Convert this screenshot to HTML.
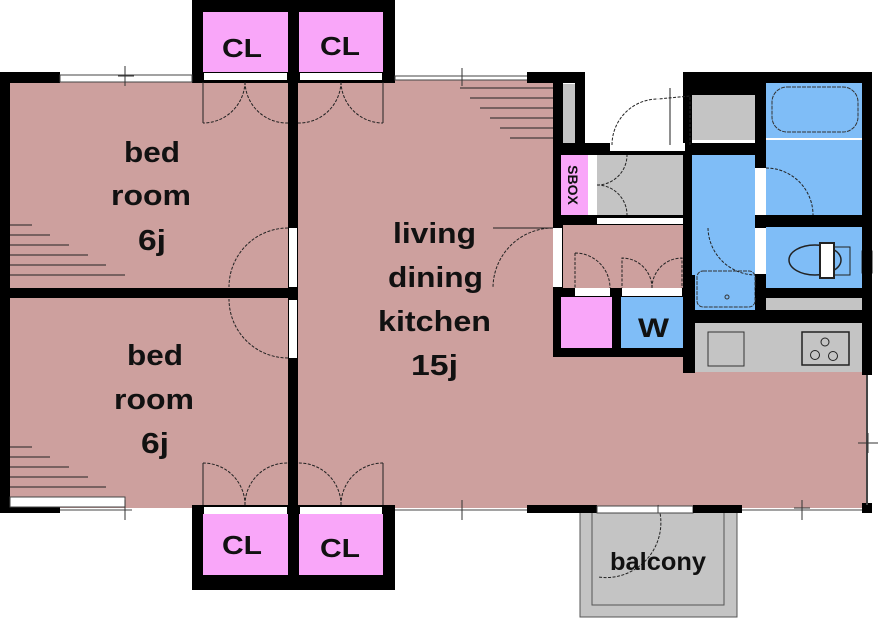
<!DOCTYPE html>
<html><head><meta charset="utf-8"><style>
html,body{margin:0;padding:0;background:#fff;}
svg{display:block;}
text{font-family:"Liberation Sans","DejaVu Sans",sans-serif;font-weight:bold;fill:#111;}
</style></head><body>
<svg width="880" height="619" viewBox="0 0 880 619" xmlns="http://www.w3.org/2000/svg">
<rect x="5" y="78" width="290" height="430" fill="#cda09e"/>
<rect x="295" y="78" width="262" height="430" fill="#cda09e"/>
<rect x="557" y="222" width="135" height="70" fill="#cda09e"/>
<rect x="557" y="350" width="310" height="158" fill="#cda09e"/>
<rect x="580" y="512" width="157" height="105" fill="#c4c4c4" stroke="#555" stroke-width="1"/>
<rect x="592" y="512" width="132" height="93" fill="none" stroke="#555" stroke-width="1"/>
<rect x="192" y="0" width="203" height="83" fill="#000"/>
<rect x="203" y="12" width="85" height="60" fill="#f9a6f9"/>
<rect x="299" y="12" width="84" height="60" fill="#f9a6f9"/>
<rect x="204" y="73" width="83" height="7" fill="#fff"/>
<rect x="300" y="73" width="82" height="7" fill="#fff"/>
<rect x="192" y="505" width="203" height="85" fill="#000"/>
<rect x="203" y="514" width="85" height="61" fill="#f9a6f9"/>
<rect x="299" y="514" width="84" height="61" fill="#f9a6f9"/>
<rect x="204" y="507" width="83" height="7" fill="#fff"/>
<rect x="300" y="507" width="82" height="7" fill="#fff"/>
<rect x="0" y="72" width="10" height="441" fill="#000"/>
<rect x="0" y="72" width="60" height="11" fill="#000"/>
<rect x="60" y="75" width="132" height="7" fill="#fff" stroke="#444" stroke-width="1"/>
<rect x="0" y="505" width="60" height="8" fill="#000"/>
<rect x="10" y="497" width="115" height="10" fill="#fff" stroke="#444" stroke-width="1"/>
<line x1="60" y1="510" x2="132" y2="510" stroke="#444"/>
<line x1="125" y1="500" x2="125" y2="520" stroke="#333"/>
<line x1="125" y1="66" x2="125" y2="86" stroke="#333"/>
<line x1="118" y1="76" x2="134" y2="76" stroke="#333"/>
<rect x="288" y="0" width="10" height="590" fill="#000"/>
<rect x="0" y="288" width="298" height="10" fill="#000"/>
<rect x="289" y="228" width="8" height="59" fill="#fff"/>
<rect x="289" y="300" width="8" height="58" fill="#fff"/>
<g fill="none" stroke="#222" stroke-width="1" stroke-dasharray="3,1.5">
<path d="M288 228 A59 59 0 0 0 229 287"/>
<path d="M288 358 A59 59 0 0 1 229 299"/>
<path d="M245 82 A42 42 0 0 1 203 123 M245 82 A42 42 0 0 0 288 123"/>
<path d="M341 82 A42 42 0 0 1 298 123 M341 82 A42 42 0 0 0 383 123"/>
<path d="M245 505 A42 42 0 0 0 203 463 M245 505 A42 42 0 0 1 288 463"/>
<path d="M341 505 A42 42 0 0 0 298 463 M341 505 A42 42 0 0 1 383 463"/>
<path d="M553 228 A60 60 0 0 0 493 288"/>
<path d="M658 505 A55 55 0 0 1 598 577"/>
</g>
<g stroke="#222" stroke-width="1">
<line x1="203" y1="82" x2="203" y2="123"/><line x1="383" y1="82" x2="383" y2="123"/>
<line x1="203" y1="463" x2="203" y2="505"/><line x1="383" y1="463" x2="383" y2="505"/>
<line x1="493" y1="228" x2="553" y2="228"/>
</g>
<g stroke="#222" stroke-width="1">
<line x1="10" y1="225" x2="32" y2="225"/><line x1="10" y1="235" x2="50" y2="235"/><line x1="10" y1="245" x2="69" y2="245"/><line x1="10" y1="255" x2="88" y2="255"/><line x1="10" y1="265" x2="106" y2="265"/><line x1="10" y1="275" x2="125" y2="275"/>
<line x1="10" y1="447" x2="32" y2="447"/><line x1="10" y1="457" x2="50" y2="457"/><line x1="10" y1="467" x2="69" y2="467"/><line x1="10" y1="477" x2="88" y2="477"/><line x1="10" y1="487" x2="106" y2="487"/>
<line x1="460" y1="88" x2="553" y2="88"/><line x1="470" y1="98" x2="553" y2="98"/><line x1="480" y1="108" x2="553" y2="108"/><line x1="490" y1="118" x2="553" y2="118"/><line x1="500" y1="128" x2="553" y2="128"/><line x1="510" y1="138" x2="553" y2="138"/>
</g>
<rect x="395" y="76" width="135" height="4" fill="#fff" stroke="#444" stroke-width="1"/>
<line x1="462" y1="68" x2="462" y2="86" stroke="#333"/>
<line x1="395" y1="510" x2="527" y2="510" stroke="#444"/>
<line x1="742" y1="510" x2="862" y2="510" stroke="#444"/>
<line x1="462" y1="500" x2="462" y2="520" stroke="#333"/>
<line x1="802" y1="500" x2="802" y2="520" stroke="#333"/><line x1="794" y1="508" x2="810" y2="508" stroke="#333"/>
<rect x="527" y="505" width="70" height="8" fill="#000"/>
<rect x="597" y="506" width="96" height="7" fill="#fff" stroke="#444" stroke-width="1"/>
<line x1="658" y1="506" x2="658" y2="513" stroke="#444"/>
<rect x="693" y="505" width="49" height="8" fill="#000"/>
<rect x="862" y="503" width="10" height="10" fill="#000"/>
<line x1="867" y1="375" x2="867" y2="505" stroke="#444" stroke-width="2"/>
<line x1="858" y1="443" x2="878" y2="443" stroke="#333"/><line x1="868" y1="433" x2="868" y2="453" stroke="#333"/>
<rect x="527" y="72" width="58" height="11" fill="#000"/>
<rect x="553" y="72" width="10" height="285" fill="#000"/>
<rect x="563" y="84" width="20" height="59" fill="#c4c4c4"/>
<rect x="575" y="72" width="10" height="80" fill="#000"/>
<rect x="585" y="85" width="98" height="60" fill="#fff"/>
<rect x="683" y="72" width="189" height="11" fill="#000"/>
<rect x="683" y="72" width="9" height="240" fill="#000"/>
<rect x="692" y="95" width="63" height="45" fill="#c4c4c4"/>
<rect x="683" y="83" width="83" height="12" fill="#000"/>
<rect x="755" y="72" width="11" height="250" fill="#000"/>
<rect x="553" y="143" width="319" height="12" fill="#000"/>
<rect x="610" y="143" width="75" height="8" fill="#fff"/>
<path d="M612 145 A46 46 0 0 1 658 99 M690 145 L690 96 L658 99" fill="none" stroke="#222" stroke-dasharray="3,1.5"/>
<line x1="670" y1="88" x2="670" y2="145" stroke="#222"/>
<rect x="561" y="155" width="27" height="60" fill="#f9a6f9"/>
<rect x="588" y="155" width="9" height="60" fill="#fff"/>
<rect x="597" y="155" width="86" height="60" fill="#c4c4c4"/>
<path d="M597 185 A30 30 0 0 0 627 155 M597 185 A30 30 0 0 1 627 215" fill="none" stroke="#222" stroke-dasharray="3,1.5"/>
<rect x="553" y="215" width="137" height="10" fill="#000"/>
<rect x="597" y="218" width="86" height="6" fill="#fff"/>
<rect x="692" y="155" width="63" height="157" fill="#7fbdf7"/>
<rect x="766" y="83" width="96" height="55" fill="#7fbdf7"/>
<rect x="772" y="87" width="86" height="45" rx="15" fill="none" stroke="#333" stroke-dasharray="4,1"/>
<rect x="766" y="140" width="96" height="75" fill="#7fbdf7"/>
<rect x="755" y="168" width="11" height="47" fill="#fff"/>
<path d="M766 168 A47 47 0 0 1 813 215" fill="none" stroke="#222" stroke-dasharray="3,1.5"/>
<rect x="755" y="215" width="117" height="12" fill="#000"/>
<rect x="766" y="227" width="96" height="61" fill="#7fbdf7"/>
<rect x="755" y="228" width="11" height="46" fill="#fff"/>
<path d="M708 228 A48 48 0 0 0 755 275" fill="none" stroke="#222" stroke-dasharray="3,1.5"/>
<rect x="862" y="251" width="10" height="22" fill="#fff" stroke="#333"/>
<ellipse cx="815" cy="260" rx="26" ry="15" fill="#7fbdf7" stroke="#222" stroke-width="1.5"/>
<rect x="820" y="243" width="14" height="35" fill="#fff" stroke="#222" stroke-width="2"/>
<rect x="834" y="247" width="16" height="28" fill="none" stroke="#222"/>
<rect x="697" y="271" width="58" height="36" rx="6" fill="none" stroke="#333" stroke-dasharray="4,1"/>
<circle cx="727" cy="297" r="2" fill="none" stroke="#333"/>
<rect x="755" y="288" width="117" height="10" fill="#000"/>
<rect x="766" y="298" width="96" height="12" fill="#c4c4c4"/>
<rect x="683" y="310" width="189" height="13" fill="#000"/>
<rect x="862" y="72" width="10" height="303" fill="#000"/>
<rect x="683" y="275" width="12" height="98" fill="#000"/>
<rect x="695" y="323" width="167" height="49" fill="#c4c4c4"/>
<rect x="708" y="332" width="36" height="34" fill="none" stroke="#333"/>
<rect x="802" y="332" width="47" height="33" fill="none" stroke="#222" stroke-width="1.5"/>
<g fill="none" stroke="#222"><circle cx="825" cy="342" r="4"/><circle cx="815" cy="355" r="4.5"/><circle cx="833" cy="356" r="4.5"/></g>
<rect x="553" y="288" width="137" height="69" fill="#000"/>
<rect x="561" y="297" width="51" height="51" fill="#f9a6f9"/>
<rect x="621" y="297" width="62" height="51" fill="#7fbdf7"/>
<rect x="575" y="288" width="35" height="8" fill="#fff"/>
<rect x="622" y="288" width="60" height="8" fill="#fff"/>
<path d="M575 253 L575 288 M575 253 A35 35 0 0 1 610 288 M652 288 A30 30 0 0 0 622 258 L622 288 M652 288 A30 30 0 0 1 682 258 L682 288" fill="none" stroke="#222" stroke-dasharray="3,1.5"/>
<rect x="553" y="228" width="9" height="59" fill="#fff"/>
<text x="222" y="57" font-size="26" textLength="40" lengthAdjust="spacingAndGlyphs">CL</text>
<text x="320" y="55" font-size="26" textLength="40" lengthAdjust="spacingAndGlyphs">CL</text>
<text x="222" y="554" font-size="26" textLength="40" lengthAdjust="spacingAndGlyphs">CL</text>
<text x="320" y="557" font-size="26" textLength="40" lengthAdjust="spacingAndGlyphs">CL</text>
<text x="124" y="162" font-size="29" textLength="56" lengthAdjust="spacingAndGlyphs">bed</text>
<text x="111" y="205" font-size="29" textLength="80" lengthAdjust="spacingAndGlyphs">room</text>
<text x="138" y="250" font-size="29" textLength="28" lengthAdjust="spacingAndGlyphs">6j</text>
<text x="127" y="365" font-size="29" textLength="56" lengthAdjust="spacingAndGlyphs">bed</text>
<text x="114" y="409" font-size="29" textLength="80" lengthAdjust="spacingAndGlyphs">room</text>
<text x="141" y="453" font-size="29" textLength="28" lengthAdjust="spacingAndGlyphs">6j</text>
<text x="393" y="243" font-size="29" textLength="83" lengthAdjust="spacingAndGlyphs">living</text>
<text x="388" y="287" font-size="29" textLength="95" lengthAdjust="spacingAndGlyphs">dining</text>
<text x="378" y="331" font-size="29" textLength="113" lengthAdjust="spacingAndGlyphs">kitchen</text>
<text x="411" y="375" font-size="29" textLength="47" lengthAdjust="spacingAndGlyphs">15j</text>
<text x="638" y="337" font-size="27" textLength="31" lengthAdjust="spacingAndGlyphs">W</text>
<text x="610" y="570" font-size="25" textLength="96" lengthAdjust="spacingAndGlyphs">balcony</text>
<text transform="translate(568,185) rotate(90)" font-size="14" text-anchor="middle">SBOX</text>
</svg>
</body></html>
